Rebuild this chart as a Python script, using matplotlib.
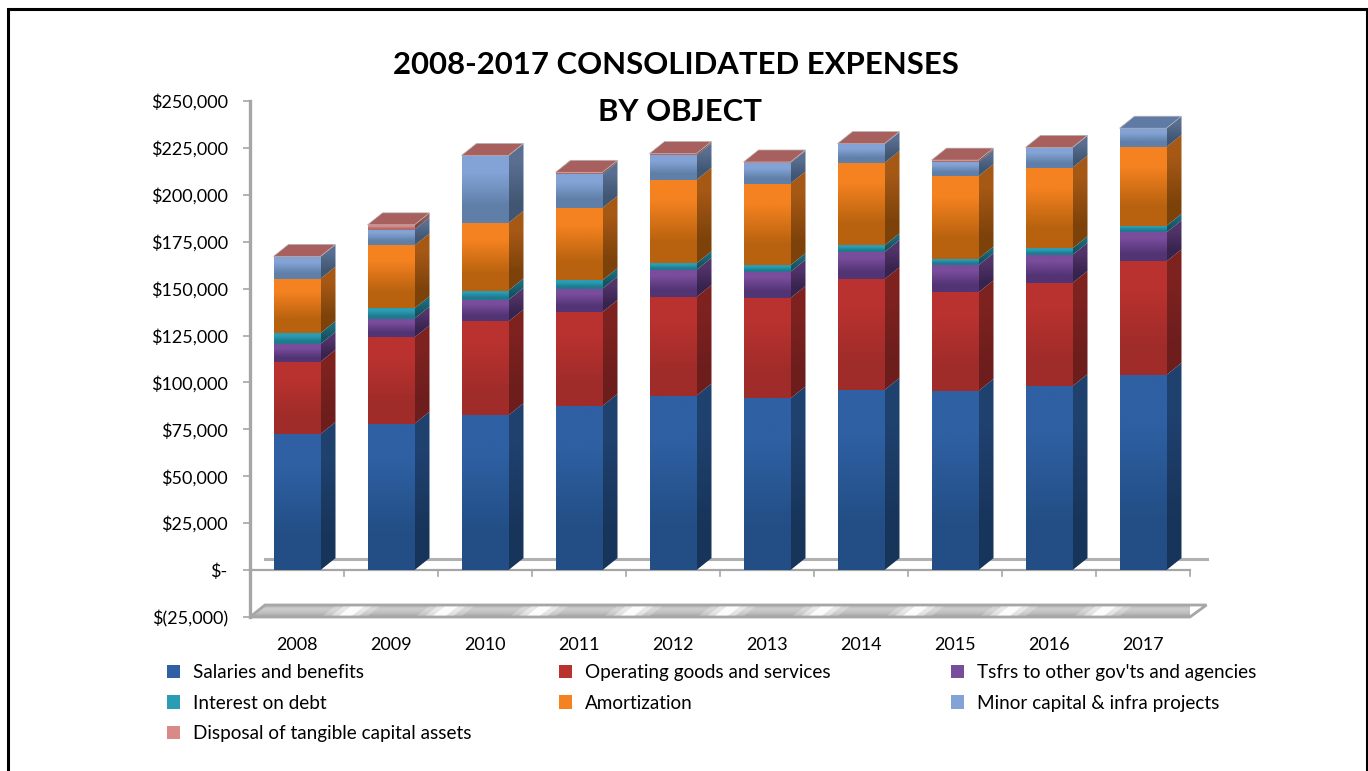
import numpy as np
import matplotlib
matplotlib.use('Agg')
import matplotlib.pyplot as plt
from matplotlib.lines import Line2D
from matplotlib.patches import Polygon, Rectangle
from matplotlib.colors import to_rgb

plt.rcParams['font.family'] = ['Lato', 'DejaVu Sans']

W, H = 1368, 771

years = ['2008', '2009', '2010', '2011', '2012', '2013', '2014', '2015', '2016', '2017']

# values
salaries = [72500, 78000, 82500, 87500, 93000, 91500, 96000, 95500, 98000, 104000]
operating = [38500, 46000, 50000, 50000, 52500, 53500, 59000, 52500, 55000, 60500]
transfers = [9500, 10000, 11500, 12500, 14500, 14000, 14500, 14500, 15000, 15500]
interest = [5800, 5500, 5000, 4500, 3500, 3500, 3500, 3500, 3500, 3500]
amortization = [29000, 33500, 36000, 38500, 44500, 43500, 44000, 44000, 43000, 42000]
minor_capital = [11700, 8500, 35700, 18000, 13000, 11000, 10000, 7500, 10500, 10000]
disposal = [200, 2500, 300, 1000, 1000, 500, 300, 1000, 300, 0]

series = [salaries, operating, transfers, interest, amortization, minor_capital, disposal]
labels = ['Salaries and benefits', 'Operating goods and services',
          "Tsfrs to other gov'ts and agencies", 'Interest on debt', 'Amortization',
          'Minor capital & infra projects', 'Disposal of tangible capital assets']
top_colors = ['#2e60a3', '#b9322f', '#7a4c9c', '#2a9db5', '#f58220', '#83a3d6', '#d98a88']
bot_colors = ['#234e85', '#a02c2a', '#523474', '#1f7a8e', '#b8620f', '#5f7fa8', '#b06a68']

yticks = list(range(-25000, 250001, 25000))
yticklabels = ['$(25,000)', '$-'] + ['${:,}'.format(v) for v in yticks[2:]]


def darker(c, f=0.68):
    return np.array(to_rgb(c)) * f


fig = plt.figure(figsize=(W / 100, H / 100), dpi=100)

# slide frame, open at the bottom
fig.add_artist(Line2D([8 / W, 8 / W, 1367 / W, 1367 / W], [0, 1 - 9 / H, 1 - 9 / H, 0],
                      color='black', lw=2.2, solid_joinstyle='miter'))

# plot area: x 250-1190px, y 101-617px
ax = fig.add_axes([250 / W, 1 - 617 / H, 940 / W, 516 / H])
ax.patch.set_alpha(0)
for s in ['top', 'right', 'bottom']:
    ax.spines[s].set_visible(False)
ax.spines['left'].set_color('#a6a6a6')
ax.spines['left'].set_linewidth(2.4)

ax.set_yticks(yticks)
ax.set_yticklabels(yticklabels, fontsize=13, color='black')
ax.tick_params(axis='y', length=5, width=1.2, color='#a6a6a6', pad=11)
ax.set_xticks([])

# depth of the fake 3d, in data units
dx = 15 / 94
dy = 12 / (469 / 250000)
bar_w = 47 / 94

# floor lines
ax.plot([0, 10], [0, 0], color='#a6a6a6', lw=1.6, zorder=1, clip_on=False)
ax.plot([dx, 10 + dx * 1.1], [dy * 0.95, dy * 0.95], color='#b0b0b0', lw=2.2, zorder=1, clip_on=False)
for i in range(1, 11):
    ax.plot([i, i], [0, -3000], color='#a6a6a6', lw=1.2, zorder=1, clip_on=False)

# slab at the bottom of the axis
slab = Polygon([(0, -25000), (10, -25000), (10 + dx * 1.1, -25000 + dy), (dx, -25000 + dy)],
               closed=True, fc='none', ec='#a6a6a6', lw=2, zorder=3, clip_on=False)
ax.add_patch(slab)
grad = np.array([[0.72], [0.80], [0.76], [0.68]])
im = ax.imshow(grad, extent=(0, 10 + dx * 1.1, -25000, -25000 + dy), aspect='auto', cmap='gray',
               vmin=0, vmax=1, zorder=2, interpolation='bilinear')
im.set_clip_path(slab)
for i in range(1, 10):
    for w, a in [(0.24, 0.25), (0.15, 0.45), (0.07, 0.9)]:
        hl = Polygon([(i - w, -25000), (i + w, -25000),
                      (i + w + dx, -25000 + dy), (i - w + dx, -25000 + dy)],
                     closed=True, fc='white', ec='none', alpha=a, zorder=2.5, clip_on=False)
        ax.add_patch(hl)

# stacked bars
values = np.array(series, dtype=float)
for i in range(len(years)):
    left = i + 0.25
    right = left + bar_w
    base = 0.0
    for k in range(len(series)):
        v = values[k, i]
        if v <= 0:
            continue
        top = base + v
        z = 5 + k * 0.01
        front = np.array([to_rgb(top_colors[k]), to_rgb(bot_colors[k])]).reshape(2, 1, 3)
        ax.imshow(front, extent=(left, right, base, top), aspect='auto', interpolation='bilinear',
                  zorder=z, clip_on=False)
        side = Polygon([(right, base), (right + dx, base + dy), (right + dx, top + dy), (right, top)],
                       closed=True, fc='none', ec='none', zorder=z, clip_on=False)
        ax.add_patch(side)
        shade = np.array([darker(top_colors[k]), darker(bot_colors[k])]).reshape(2, 1, 3)
        si = ax.imshow(shade, extent=(right, right + dx, base, top + dy), aspect='auto',
                       interpolation='bilinear', zorder=z)
        si.set_clip_path(side)
        base = top
    # top face takes the colour of the last series in the stack
    lid_color = '#a8605f' if values[6, i] > 0 else '#5f7aa5'
    lid = Polygon([(left, base), (right, base), (right + dx, base + dy), (left + dx, base + dy)],
                  closed=True, fc=lid_color, ec='#b5b5b5', lw=0.5, zorder=5.1, clip_on=False)
    ax.add_patch(lid)
    ax.text(i + 0.5, -40000, years[i], ha='center', va='center', fontsize=13, color='black')

ax.set_xlim(0, 10)
ax.set_ylim(-25000, 250000)

fig.text(675.5 / W, 1 - 65 / H, '2008-2017 CONSOLIDATED EXPENSES', ha='center', va='center',
         fontsize=22.4, fontweight='bold', color='black')
fig.text(680 / W, 1 - 112 / H, 'BY OBJECT', ha='center', va='center',
         fontsize=22.4, fontweight='bold', color='black', zorder=10)

# legend, one per column because the labels have different widths
columns = [([0, 3, 6], 167), ([1, 4], 559), ([2, 5], 951)]
for idx, px in columns:
    handles = [Rectangle((0, 0), 1, 1, fc=top_colors[k], ec='none') for k in idx]
    fig.legend(handles, [labels[k] for k in idx], loc='upper left',
               bbox_to_anchor=(px / W, 1 - 664 / H), frameon=False, fontsize=13.6,
               handlelength=0.69, handleheight=0.69, handletextpad=0.69, labelspacing=0.72,
               borderpad=0, borderaxespad=0)

fig.savefig('out.png', dpi=100)
